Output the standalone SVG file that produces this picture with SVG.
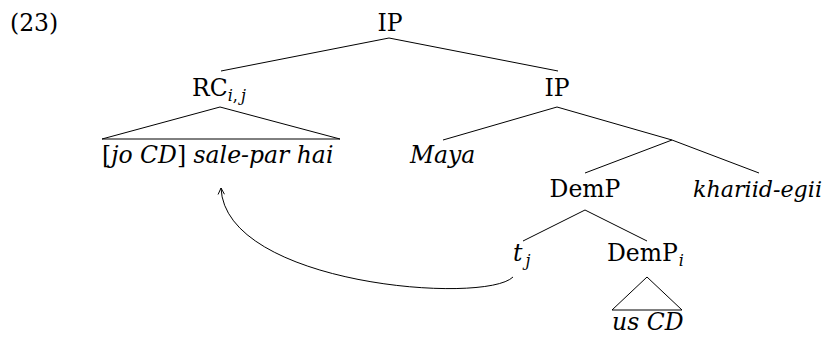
<svg xmlns="http://www.w3.org/2000/svg" width="827" height="338" viewBox="0 0 827 338">
<defs>
<style>
text{font-family:"DejaVu Serif","Liberation Serif",serif;font-size:23.5px;fill:#000}
.it{font-style:italic}
.rm{font-style:normal}
.sub{font-size:16px;font-style:italic}
.mid{text-anchor:middle}
.ln{stroke:#000;stroke-width:1;fill:none}
</style>
<marker id="ah" viewBox="0 0 10 10" refX="9" refY="5" markerWidth="8" markerHeight="8" orient="auto-start-reverse" markerUnits="userSpaceOnUse">
<path d="M1,1 L9,5 L1,9" fill="none" stroke="#000" stroke-width="1.2"/>
</marker>
</defs>
<rect width="827" height="338" fill="#fff"/>
<text x="10" y="31">(23)</text>
<g id="connectors">
<line class="ln" x1="389" y1="38" x2="221" y2="71"/>
<line class="ln" x1="389" y1="38" x2="558" y2="71"/>
<polygon class="ln" points="220,107 102,139 340,139"/>
<line class="ln" x1="557" y1="107" x2="443" y2="140"/>
<polyline class="ln" points="557,107 672,140 759,173"/>
<line class="ln" x1="672" y1="140" x2="585" y2="173"/>
<line class="ln" x1="585" y1="210" x2="523" y2="241"/>
<line class="ln" x1="585" y1="210" x2="647" y2="241"/>
<polygon class="ln" points="647,277 612,310 682,310"/>
<path class="ln" d="M513,277 C485,305 225,285 221,188" marker-end="url(#ah)"/>
</g>
<g id="ip-root"><text class="mid" x="390" y="31">IP</text></g>
<g id="rc"><text x="192" y="96">RC<tspan class="sub" dy="5">i<tspan class="rm">,</tspan><tspan dx="3">j</tspan></tspan></text></g>
<g id="rc-content"><text class="it" x="102" y="163"><tspan class="rm">[</tspan>jo CD<tspan class="rm">]</tspan> sale-par hai</text></g>
<g id="ip2"><text class="mid" x="557" y="96">IP</text></g>
<g id="maya"><text class="it" x="410" y="163">Maya</text></g>
<g id="demp"><text class="mid" x="585" y="197">DemP</text></g>
<g id="khariid"><text class="it" x="693" y="197" style="font-size:22.2px">khariid-egii</text></g>
<g id="trace"><text class="it" x="513" y="261">t<tspan class="sub" dx="3" dy="5">j</tspan></text></g>
<g id="demp-i"><text x="607" y="261">DemP<tspan class="sub" dx="1" dy="5">i</tspan></text></g>
<g id="us-cd"><text class="it" x="612" y="330">us CD</text></g>
</svg>
